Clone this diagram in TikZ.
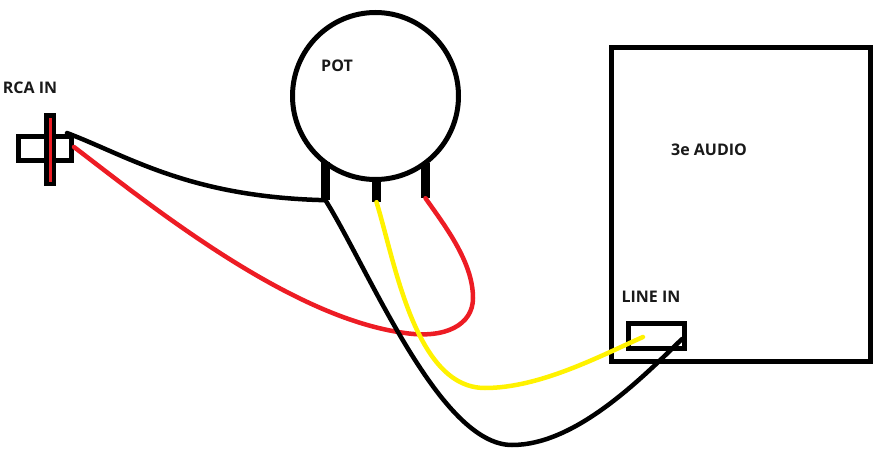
\documentclass[tikz,border=0pt]{standalone}
\usepackage{fontspec}
\setmainfont{Open Sans}
\usetikzlibrary{shapes,positioning}
\definecolor{wirered}{RGB}{237,28,36}
\definecolor{wireyellow}{RGB}{255,242,0}
\tikzset{
    outline/.style={draw=black,line width=5pt,fill=white,inner sep=0pt},
    pin/.style={fill=black,inner sep=0pt,minimum width=9pt},
    wire/.style={line width=4.5pt,line cap=round},
    lbl/.style={font=\fontsize{16}{18}\selectfont\bfseries,inner sep=0pt,text=black!90}
}
\begin{document}
\begin{tikzpicture}[x=1pt,y=-1pt]
    \useasboundingbox (0,0) rectangle (879,476);
    % Parts
    \node[outline,minimum width=259pt,minimum height=313pt] (audio) at (741,204.5) {};
    \node[outline,minimum width=56pt,minimum height=25pt] (linein) at (656.5,336) {};
    \node[outline,ellipse,minimum width=166pt,minimum height=167pt] (pot) at (375.5,96) {};
    \node[outline,minimum width=53pt,minimum height=24pt,fill=none] (rca) at (45,148.5) {};
    \node[fill=black,inner sep=0pt,minimum width=12pt,minimum height=73pt] (rcabar) at (50,149.5) {};
    \node[fill=wirered,inner sep=0pt,minimum width=3pt,minimum height=64pt] (rcacore) at (50,150) {};
    % Pins
    \node[pin,minimum height=38pt] (pinL) at (325.5,181) {};
    \node[pin,minimum height=22pt] (pinM) at (376.5,191) {};
    \node[pin,minimum height=35pt] (pinR) at (425.5,180.5) {};
    % Wire ends
    \coordinate (rcatip) at (67,133);
    \coordinate (rcared) at (74,147);
    \coordinate (plugY) at (643,337);
    \coordinate (plugK) at (682,339);
    % Labels
    \node[lbl] (rcalbl) at (30,87.5) {RCA IN};
    \node[lbl] (potlbl) at (337,65.5) {POT};
    \node[lbl] (audiolbl) at (709,149.5) {3e AUDIO};
    \node[lbl] (lineinlbl) at (651,296.5) {LINE IN};
    % Wires
    \draw[wire,wirered] (rcared) .. controls (150,205) and (290,318) .. (405,333)
        .. controls (445,339) and (473,325) .. (473,298)
        .. controls (473,262) and (445,226) .. (pinR.south);
    \draw[wire] (rcatip) .. controls (130,157) and (190,197) .. (pinL.south);
    \draw[wire] (pinL.south) .. controls (370,272) and (440,445) .. (512,445)
        .. controls (575,445) and (640,380) .. (plugK);
    \draw[wire,wireyellow] (pinM.south) .. controls (395,262) and (415,388) .. (485,388)
        .. controls (540,388) and (600,356) .. (plugY);
\end{tikzpicture}
\end{document}
